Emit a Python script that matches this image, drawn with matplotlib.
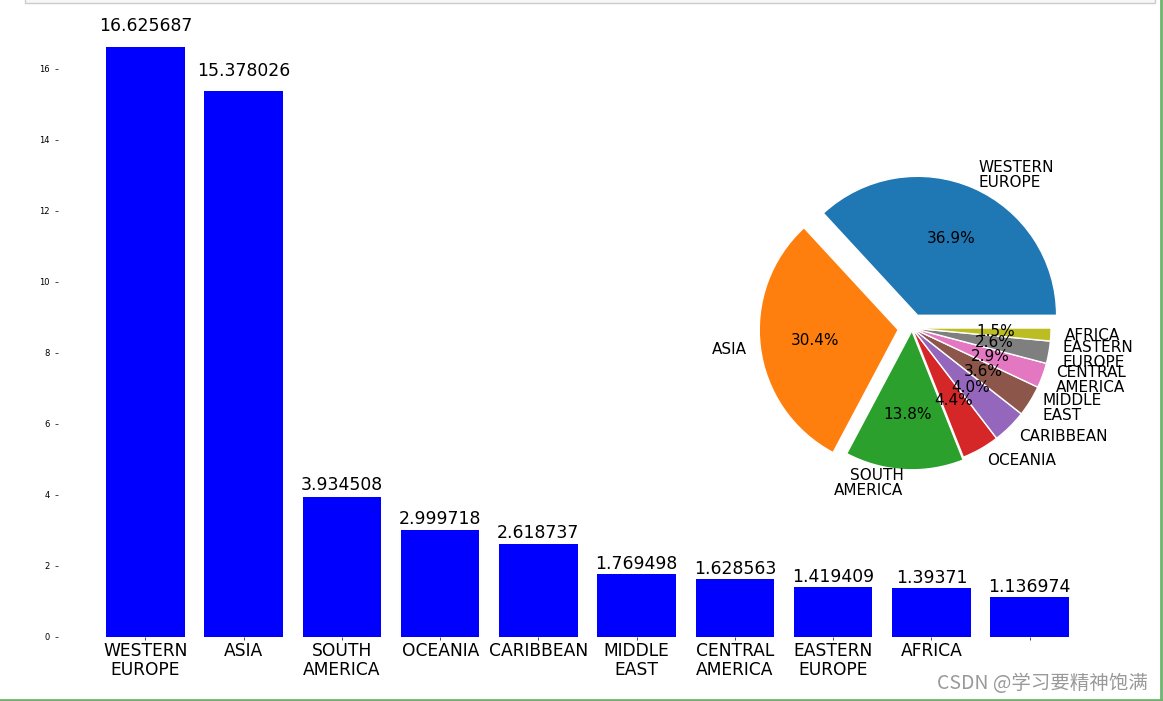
import matplotlib.pyplot as plt
from matplotlib.patches import Rectangle
from matplotlib.lines import Line2D

regions = ['WESTERN\nEUROPE', 'ASIA', 'SOUTH\nAMERICA', 'OCEANIA', 'CARIBBEAN',
           'MIDDLE\nEAST', 'CENTRAL\nAMERICA', 'EASTERN\nEUROPE', 'AFRICA', '']
values = [16.625687, 15.378026, 3.934508, 2.999718, 2.618737,
          1.769498, 1.628563, 1.419409, 1.39371, 1.136974]

# pie shares (as printed on the pie)
pie_labels = regions[:9]
pie_share = [36.9, 30.4, 13.8, 4.4, 4.0, 3.6, 2.9, 2.6, 1.5]
explode = [0.1, 0.1, 0.02, 0, 0, 0, 0, 0, 0]

fig = plt.figure(figsize=(11.63, 7.01), dpi=100)

# bar chart
ax = fig.add_axes([0.0499, 0.0913, 0.9106, 0.8844])
x = range(len(values))
ax.bar(x, values, width=0.8, color='blue')
for xi, v in zip(x, values):
    ax.text(xi, v * 1.02, str(v), ha='center', va='bottom', fontsize=12.4)
ax.set_xticks(list(x))
ax.set_xticklabels(regions, fontsize=12.3, linespacing=1.05)
ax.tick_params(axis='x', length=2.2, width=0.5, pad=1.5)
ax.tick_params(axis='y', labelsize=6, length=2.2, width=0.5, pad=4)
for s in ax.spines.values():
    s.set_visible(False)

# pie inset
ax2 = fig.add_axes([0.6348, 0.2842, 0.2988, 0.4957])
ax2.pie(pie_share, labels=pie_labels, explode=explode, autopct='%1.1f%%',
        textprops={'fontsize': 11, 'linespacing': 1.0},
        wedgeprops={'edgecolor': 'white', 'linewidth': 1})

# watermark
fig.text(0.987, 0.025, 'CSDN @学习要精神饱满', ha='right', va='center',
         fontsize=14, color='#999999',
         family=['Noto Sans CJK SC', 'DejaVu Sans'])

# screenshot frame
fig.add_artist(Rectangle((25 / 1163, 1 - 3 / 701), 1130 / 1163, 0.02,
                         transform=fig.transFigure, facecolor='#f7f7f7',
                         edgecolor='#cccccc', linewidth=1))
fig.add_artist(Line2D([0, 1], [1.5 / 701, 1.5 / 701], transform=fig.transFigure,
                      color='#6fb36f', linewidth=2))
fig.add_artist(Line2D([1 - 2 / 1163, 1 - 2 / 1163], [0, 1], transform=fig.transFigure,
                      color='#6fb36f', linewidth=2))

fig.savefig('out.png', dpi=100)
